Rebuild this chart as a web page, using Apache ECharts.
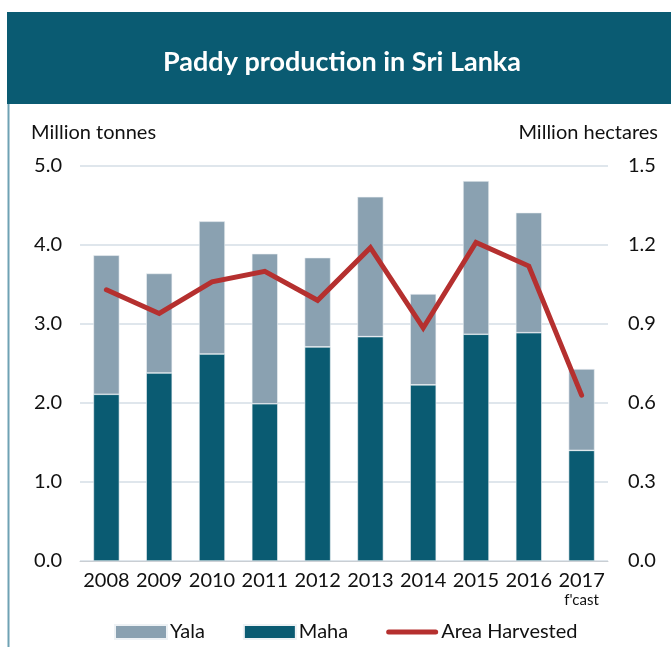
<!DOCTYPE html>
<html>
<head>
<meta charset="utf-8">
<script src="https://cdn.jsdelivr.net/npm/echarts@6/dist/echarts.min.js"></script>
<style>
  html, body { margin: 0; padding: 0; background: #fff; }
  #chart { width: 671px; height: 647px; }
</style>
</head>
<body>
<div id="chart"></div>
<script>
// Paddy production by season (million tonnes) and area harvested (million hectares)
const years = ['2008', '2009', '2010', '2011', '2012', '2013', '2014', '2015', '2016', '2017'];
const maha = [2.11, 2.38, 2.62, 1.99, 2.71, 2.84, 2.23, 2.87, 2.89, 1.40];
const yala = [1.76, 1.26, 1.68, 1.90, 1.13, 1.77, 1.15, 1.94, 1.52, 1.03];
const areaHarvested = [1.03, 0.94, 1.06, 1.10, 0.99, 1.19, 0.885, 1.21, 1.12, 0.63];
const leftTicks = ['0.0', '1.0', '2.0', '3.0', '4.0', '5.0'];
const rightTicks = ['0.0', '0.3', '0.6', '0.9', '1.2', '1.5'];

const FONT = 'Lato, "Open Sans", sans-serif';
const TEAL = '#0a5b72';
const GREY = '#8aa1b1';
const RED = '#b5302f';
const LINE_ICON = 'path://M2.5,0 H49.5 A2.5,2.5 0 0 1 49.5,5 H2.5 A2.5,2.5 0 0 1 2.5,0 Z';

const chart = echarts.init(document.getElementById('chart'), null, { renderer: 'canvas' });

chart.setOption({
  backgroundColor: '#ffffff',
  animation: false,
  textStyle: { fontFamily: FONT, color: '#111' },
  graphic: [
    { type: 'rect', left: 7, top: 12, shape: { width: 664, height: 92 }, style: { fill: TEAL } },
    { type: 'line', shape: { x1: 8.5, y1: 104, x2: 8.5, y2: 647 }, style: { stroke: '#6fa2b4', lineWidth: 2 } },
    {
      type: 'text', x: 342, y: 62,
      style: { text: 'Paddy production in Sri Lanka', fill: '#fff', font: 'bold 27px ' + FONT, align: 'center', verticalAlign: 'middle' }
    },
    { type: 'text', left: 31, top: 123, style: { text: 'Million tonnes', fill: '#111', font: '20px ' + FONT } },
    { type: 'text', right: 13, top: 123, style: { text: 'Million hectares', fill: '#111', font: '20px ' + FONT } }
  ],
  grid: { left: 80, right: 63, top: 166, bottom: 86, containLabel: false },
  legend: {
    bottom: 0,
    left: 109,
    itemWidth: 52,
    itemHeight: 14,
    itemGap: 38,
    textStyle: { fontSize: 20, fontFamily: FONT, color: '#111', padding: [0, 0, 0, -2] },
    data: [
      { name: 'Yala', icon: 'rect' },
      { name: 'Maha', icon: 'rect' },
      { name: 'Area Harvested', icon: LINE_ICON }
    ]
  },
  xAxis: {
    type: 'category',
    data: years,
    axisLine: { show: true, lineStyle: { color: '#c9ced3', width: 1 } },
    axisTick: { show: false },
    axisLabel: {
      interval: 0,
      fontSize: 20,
      color: '#111',
      fontFamily: FONT,
      margin: 9,
      lineHeight: 21,
      formatter: function (v) { return v === '2017' ? '2017\n{s|f\'cast}' : v; },
      rich: { s: { fontSize: 15, color: '#111', fontFamily: FONT, lineHeight: 18 } }
    }
  },
  yAxis: [
    {
      type: 'value', min: 0, max: 5, interval: 1,
      axisLine: { show: false }, axisTick: { show: false },
      splitLine: { lineStyle: { color: '#dfe6ec', width: 2 } },
      axisLabel: {
        fontSize: 20, color: '#111', fontFamily: FONT, margin: 18,
        formatter: function (v) { return leftTicks[Math.round(v)]; }
      }
    },
    {
      type: 'value', min: 0, max: 1.5, interval: 0.3,
      axisLine: { show: false }, axisTick: { show: false }, splitLine: { show: false },
      axisLabel: {
        fontSize: 20, color: '#111', fontFamily: FONT, margin: 20,
        formatter: function (v) { return rightTicks[Math.round(v / 0.3)]; }
      }
    }
  ],
  series: [
    {
      name: 'Maha', type: 'bar', stack: 'prod', data: maha, barWidth: 26,
      itemStyle: { color: TEAL, borderColor: '#eef2f5', borderWidth: 0.6 }, z: 2
    },
    {
      name: 'Yala', type: 'bar', stack: 'prod', data: yala, barWidth: 26,
      itemStyle: { color: GREY, borderColor: '#eef2f5', borderWidth: 0.6 }, z: 2
    },
    {
      name: 'Area Harvested', type: 'line', yAxisIndex: 1, data: areaHarvested,
      symbol: 'none', lineStyle: { color: RED, width: 5, cap: 'round', join: 'miter' },
      itemStyle: { color: RED }, z: 5
    }
  ]
});
</script>
</body>
</html>
